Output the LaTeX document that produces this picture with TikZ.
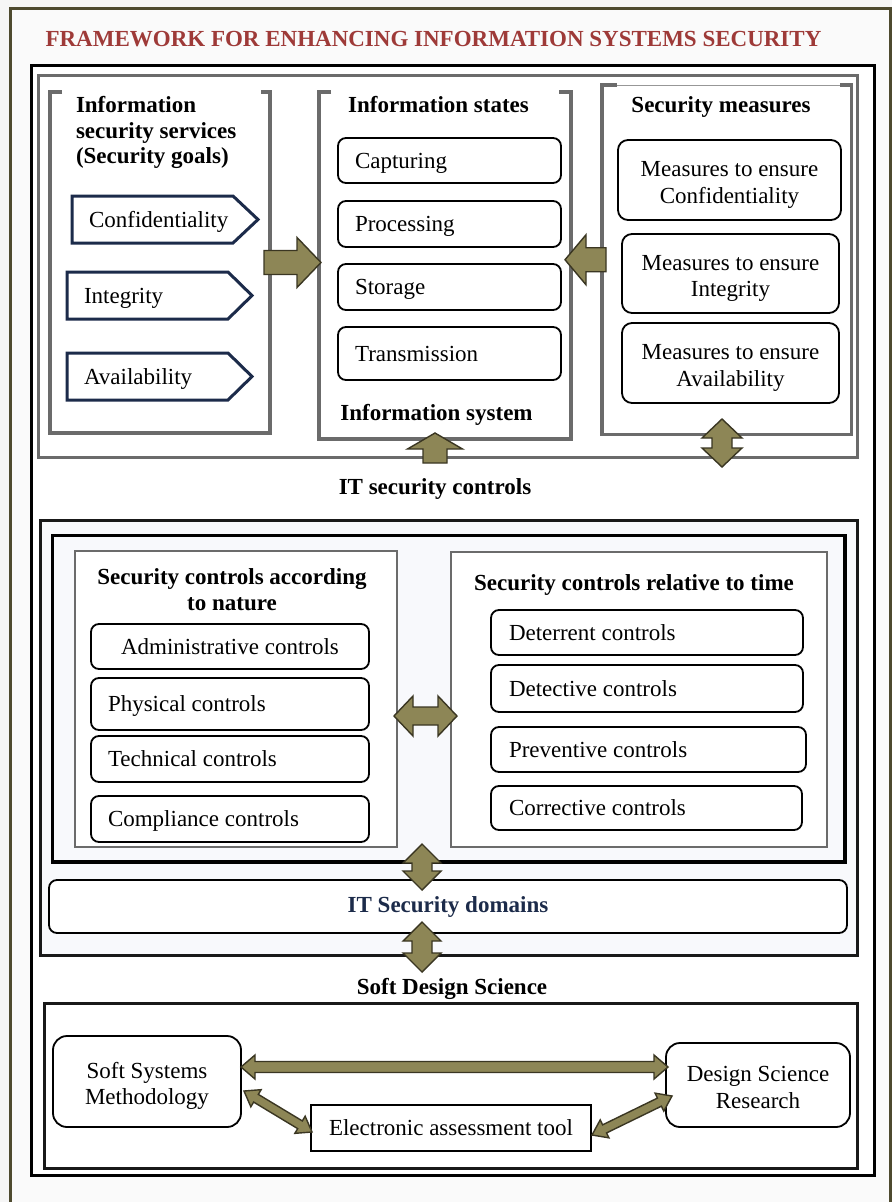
\documentclass[tikz,border=0pt]{standalone}
\usepackage{fontspec}
\setmainfont{Liberation Serif}
\usetikzlibrary{calc}

\definecolor{olivebd}{HTML}{4E4A2F}
\definecolor{pagebg}{HTML}{F6F6F6}
\definecolor{framebg}{HTML}{FAFAFA}
\definecolor{titlered}{HTML}{9E3A38}
\definecolor{panelgray}{HTML}{6B6B6B}
\definecolor{navy}{HTML}{1C2B4A}
\definecolor{arrowfill}{HTML}{8D8656}
\definecolor{arrowedge}{HTML}{3A3622}
\definecolor{tintbg}{HTML}{F8F9FC}

\newcommand{\bodyfont}{\fontsize{23}{26.5}\selectfont}

% block arrow with two heads: #1 -> #2, shaft half width, head half width, head length
\newcommand{\blockdouble}[5]{%
  \draw[blockarr] let \p1=(#1), \p2=(#2), \n1={atan2(\y2-\y1,\x2-\x1)} in
    (\p1) -- ($(\p1)+(\n1:#5)+(\n1+90:#4)$) -- ($(\p1)+(\n1:#5)+(\n1+90:#3)$)
    -- ($(\p2)+(\n1+180:#5)+(\n1+90:#3)$) -- ($(\p2)+(\n1+180:#5)+(\n1+90:#4)$)
    -- (\p2) -- ($(\p2)+(\n1+180:#5)+(\n1-90:#4)$) -- ($(\p2)+(\n1+180:#5)+(\n1-90:#3)$)
    -- ($(\p1)+(\n1:#5)+(\n1-90:#3)$) -- ($(\p1)+(\n1:#5)+(\n1-90:#4)$) -- cycle;}

% block arrow with one head at #2
\newcommand{\blocksingle}[5]{%
  \draw[blockarr] let \p1=(#1), \p2=(#2), \n1={atan2(\y2-\y1,\x2-\x1)} in
    ($(\p1)+(\n1+90:#3)$) -- ($(\p2)+(\n1+180:#5)+(\n1+90:#3)$) -- ($(\p2)+(\n1+180:#5)+(\n1+90:#4)$)
    -- (\p2) -- ($(\p2)+(\n1+180:#5)+(\n1-90:#4)$) -- ($(\p2)+(\n1+180:#5)+(\n1-90:#3)$)
    -- ($(\p1)+(\n1-90:#3)$) -- cycle;}

% pentagon tag around a named node, #2 = length of the point
\newcommand{\tagoutline}[2]{%
  \draw[tagline] (#1.north west) -- (#1.north east) -- ($(#1.east)+(#2,0)$)
    -- (#1.south east) -- (#1.south west) -- cycle;}

\tikzset{
  every node/.style={font=\bodyfont, inner sep=0pt, outer sep=0pt},
  heading/.style={font=\bodyfont\bfseries},
  frameline/.style={draw=panelgray, line width=3.2pt, line join=miter},
  sbox/.style={draw=black, line width=1.8pt, rounded corners=8pt, fill=white,
    text height=15pt, text depth=0pt},
  mbox/.style={draw=black, line width=1.8pt, rounded corners=10pt, fill=white, align=center,
    text height=46pt, text depth=0pt},
  tagbody/.style={text height=15pt, text depth=0pt},
  tagline/.style={draw=navy, line width=3pt, line join=miter},
  blockarr/.style={fill=arrowfill, draw=arrowedge, line width=1.4pt, line join=miter},
  subpanel/.style={draw=panelgray, line width=1.6pt, fill=white},
}

\begin{document}
\begin{tikzpicture}[x=1pt,y=-1pt]
\useasboundingbox (0,0) rectangle (892,1202);
\fill[pagebg] (0,0) rectangle (892,1202);
\draw[olivebd, line width=3pt, fill=framebg] (10,8) rectangle (890.5,1215);

\node[heading, text=titlered, anchor=base] (title) at (433.5,46)
  {FRAMEWORK FOR ENHANCING INFORMATION SYSTEMS SECURITY};

% main black frame
\node[draw=black, line width=3pt, fill=white, minimum width=843pt, minimum height=1110pt] (fw) at (452.5,620.5) {};

% ---------------- information system part ----------------
\node[frameline, minimum width=819pt, minimum height=382pt] (upper) at (448,266.5) {};

\node[minimum width=220pt, minimum height=341pt] (lp) at (160,262.5) {};
\draw[frameline] ($(lp.north west)+(12,0)$) -- (lp.north west) -- (lp.south west)
  -- (lp.south east) -- (lp.north east) -- ($(lp.north east)+(-9,0)$);

\node[minimum width=252pt, minimum height=347pt] (mp) at (445,265.5) {};
\draw[frameline] ($(mp.north west)+(12,0)$) -- (mp.north west) -- (mp.south west)
  -- (mp.south east) -- (mp.north east) -- ($(mp.north east)+(-12,0)$);

\node[minimum width=249.5pt, minimum height=349.5pt] (rp) at (726.75,259.75) {};
\draw[panelgray!70, line width=1pt] (rp.north west) -- (rp.north east);
\draw[frameline] ($(rp.north west)+(15,0)$) -- (rp.north west) -- (rp.south west)
  -- (rp.south east) -- (rp.north east) -- ($(rp.north east)+(-12,0)$);

% security goals
\node[heading, anchor=base west] (lph1) at (76,112) {Information};
\node[heading, anchor=base west] (lph2) at (76,138) {security services};
\node[heading, anchor=base west] (lph3) at (76,163.5) {(Security goals)};

\node[tagbody, minimum height=47pt] (tconf) at (152.5,219.5) {\makebox[161pt][l]{\hspace{17pt}Confidentiality}};
\tagoutline{tconf}{25}
\node[tagbody, minimum height=47pt] (tint) at (147.5,295.5) {\makebox[161pt][l]{\hspace{17pt}Integrity}};
\tagoutline{tint}{24}
\node[tagbody, minimum height=47pt] (tavail) at (147.5,376.5) {\makebox[161pt][l]{\hspace{17pt}Availability}};
\tagoutline{tavail}{24}

% information states
\node[heading, anchor=base] (mph) at (438.5,112) {Information states};
\node[sbox, minimum height=45pt] (cap) at (449.5,160.5) {\makebox[223pt][l]{\hspace{17pt}Capturing}};
\node[sbox, minimum height=46pt] (proc) at (449.5,224) {\makebox[223pt][l]{\hspace{17pt}Processing}};
\node[sbox, minimum height=46pt] (stor) at (449.5,287) {\makebox[223pt][l]{\hspace{17pt}Storage}};
\node[sbox, minimum height=53pt] (trans) at (449.5,353.5) {\makebox[223pt][l]{\hspace{17pt}Transmission}};
\node[heading, anchor=base] (mpf) at (436.5,420) {Information system};

% security measures
\node[heading, anchor=base] (rph) at (721,112) {Security measures};
\node[mbox, minimum width=223pt, minimum height=80pt] (mconf) at (729.5,180) {Measures to ensure\\Confidentiality};
\node[mbox, minimum width=217pt, minimum height=79pt] (mint) at (730.5,273.5) {Measures to ensure\\Integrity};
\node[mbox, minimum width=217pt, minimum height=80pt] (mavail) at (730.5,363) {Measures to ensure\\Availability};

\node[heading, anchor=base] (itsc) at (435,494) {IT security controls};

% ---------------- security controls part ----------------
\node[draw=black!90, line width=3pt, fill=tintbg, minimum width=817pt, minimum height=434.5pt] (ctlout) at (448.5,737.75) {};
\node[draw=black, line width=3.5pt, fill=tintbg, minimum width=792.5pt, minimum height=326.5pt] (ctlin) at (448.75,698.75) {};

\node[subpanel, minimum width=322pt, minimum height=296pt] (lsub) at (236,699) {};
\node[subpanel, minimum width=376pt, minimum height=295pt] (rsub) at (639,699.5) {};

\node[heading, anchor=base] (lsh1) at (232,584) {Security controls according};
\node[heading, anchor=base] (lsh2) at (232,610) {to nature};
\node[heading, anchor=base] (rsh) at (634,590) {Security controls relative to time};

\node[sbox, minimum height=45pt] (adm) at (230,646.5) {\makebox[278pt]{Administrative controls}};
\node[sbox, minimum height=52pt] (phy) at (230,704) {\makebox[278pt][l]{\hspace{17pt}Physical controls}};
\node[sbox, minimum height=46pt] (tec) at (230,759) {\makebox[278pt][l]{\hspace{17pt}Technical controls}};
\node[sbox, minimum height=46pt] (com) at (230,819) {\makebox[278pt][l]{\hspace{17pt}Compliance controls}};

\node[sbox, minimum height=45pt] (det) at (647,632.5) {\makebox[312pt][l]{\hspace{18pt}Deterrent controls}};
\node[sbox, minimum height=47pt] (dtc) at (647,688.5) {\makebox[312pt][l]{\hspace{18pt}Detective controls}};
\node[sbox, minimum height=45pt] (prv) at (648.5,749.5) {\makebox[315pt][l]{\hspace{18pt}Preventive controls}};
\node[sbox, minimum height=44pt] (cor) at (646.5,808) {\makebox[311pt][l]{\hspace{18pt}Corrective controls}};

\node[draw=black, line width=1.8pt, rounded corners=8pt, fill=white, minimum width=798pt, minimum height=53pt,
  font=\bodyfont\bfseries, text=navy] (dom) at (448,906.5) {IT Security domains};

\node[heading, anchor=base] (sdsl) at (452,994) {Soft Design Science};

% ---------------- soft design science part ----------------
\node[draw=black!90, line width=3pt, fill=white, minimum width=813.5pt, minimum height=165.5pt] (sds) at (450.75,1085.75) {};
\node[mbox, rounded corners=14pt, minimum width=188pt, minimum height=91pt] (ssm) at (147,1081.5) {Soft Systems\\Methodology};
\node[mbox, rounded corners=14pt, minimum width=184pt, minimum height=84pt] (dsr) at (758,1085) {Design Science\\Research};
\node[draw=black, line width=1.8pt, fill=white, minimum width=280pt, minimum height=46pt] (eat) at (451,1128) {Electronic assessment tool};

% ---------------- block arrows ----------------
\coordinate (a1s) at ($(lp.east)+(-6,0)$);
\coordinate (a1e) at ($(mp.west|-lp.east)+(2,0)$);
\blocksingle{a1s}{a1e}{12pt}{25pt}{24pt}

\coordinate (a2s) at ($(rp.west)+(4,0)$);
\coordinate (a2e) at ($(mp.east|-rp.west)+(-6,0)$);
\blocksingle{a2s}{a2e}{12pt}{25pt}{21pt}

\coordinate (a3s) at ($(upper.south)+(-13,5.5)$);
\coordinate (a3e) at ($(a3s|-mp.south)+(0,-6)$);
\blocksingle{a3s}{a3e}{12pt}{27.5pt}{16pt}

\coordinate (a4s) at ($(rp.south)+(-4.75,-15.5)$);
\coordinate (a4e) at ($(rp.south)+(-4.75,32.5)$);
\blockdouble{a4s}{a4e}{10pt}{20pt}{19pt}

\coordinate (a5s) at ($(lsub.east)+(-3,17)$);
\coordinate (a5e) at ($(rsub.west)+(6,16.5)$);
\blockdouble{a5s}{a5e}{9pt}{20pt}{19pt}

\coordinate (a6s) at ($(ctlin.south)+(-26.75,-18)$);
\coordinate (a6e) at ($(dom.north)+(-26,10)$);
\blockdouble{a6s}{a6e}{10pt}{19pt}{19pt}

\coordinate (a7s) at ($(dom.south)+(-26,-11)$);
\coordinate (a7e) at ($(ctlout.south)+(-26.5,17)$);
\blockdouble{a7s}{a7e}{10pt}{19pt}{19pt}

\coordinate (a8s) at ($(ssm.east)+(0,-14.5)$);
\coordinate (a8e) at ($(dsr.west)+(2,-18)$);
\blockdouble{a8s}{a8e}{5.5pt}{12pt}{14pt}

\coordinate (a9s) at ($(ssm.east)+(3,9.5)$);
\coordinate (a9e) at ($(eat.west)+(1,4)$);
\blockdouble{a9s}{a9e}{4.5pt}{10pt}{14pt}

\coordinate (a10s) at ($(eat.east)+(1,7)$);
\coordinate (a10e) at ($(dsr.west)+(6,11)$);
\blockdouble{a10s}{a10e}{4.5pt}{10pt}{14pt}
\end{tikzpicture}
\end{document}
